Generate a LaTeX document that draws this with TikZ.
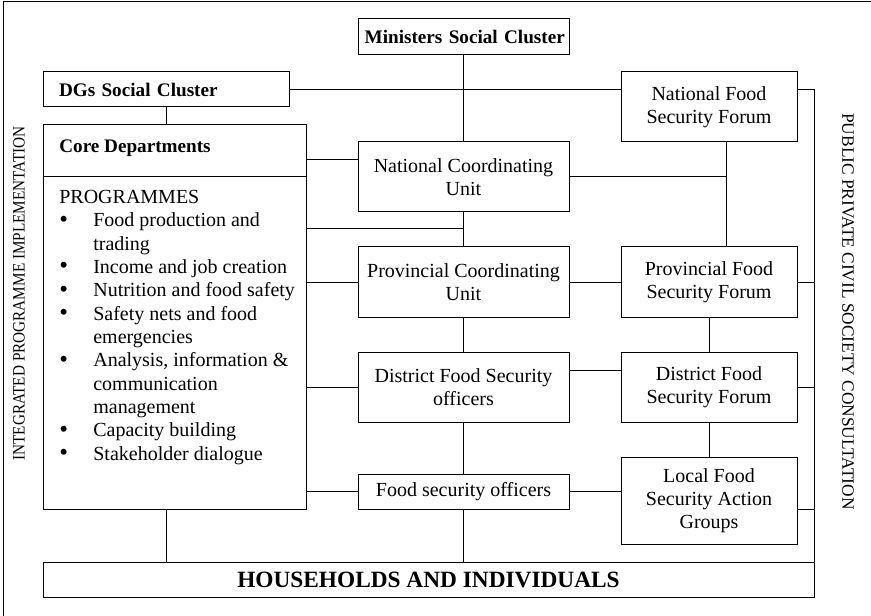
\documentclass[tikz,border=0pt]{standalone}
\usepackage{graphicx}
\usepackage{fontspec}
\setmainfont{Liberation Serif}
\usepackage{tikz}
\usetikzlibrary{positioning}
\newcommand{\progbullet}{\raisebox{-0.3pt}{\scalebox{1.25}{\textbullet}}}

\tikzset{
  box/.style={draw, line width=0.6pt, inner sep=0pt, align=center,
    minimum width=126.6pt, minimum height=42pt,
    font=\fontsize{12}{13.8}\selectfont},
  forumbox/.style={box, minimum width=105.6pt},
  boldbox/.style={box, minimum height=21pt, align=left,
    font=\fontsize{11.5}{13.8}\selectfont\bfseries},
  link/.style={line width=0.6pt},
  sidetext/.style={inner sep=0pt, font=\fontsize{10.4}{12}\selectfont}
}

\begin{document}
\begin{tikzpicture}[x=0.6pt, y=-0.6pt]
        \useasboundingbox (0,0) rectangle (871,616);
        \draw[link] (3,616) -- (3,2) -- (871,2);

        \node (min) at (463.5,37) [boldbox, minimum height=21.6pt, text width=118.6pt, inner xsep=4pt] {\mbox{Ministers Social Cluster}};
        \node (dgs) at (166,89.5) [boldbox, minimum width=147.6pt, text width=128.4pt, inner xsep=9.6pt] {DGs Social Cluster};
        \node (core) at (174.5,317) [box, minimum width=157.8pt, minimum height=230.4pt] {};
        \node (coretitle) at (59,152.5) [anchor=base west, inner sep=0pt, font=\fontsize{11.5}{13.8}\selectfont\bfseries] {Core Departments};
        \node (corelist) at (59,203.5) [anchor=base west, inner sep=0pt, font=\fontsize{12}{14}\selectfont] {%
          \begin{tabular}[t]{@{}p{20.4pt}@{}l@{}}
            \multicolumn{2}{@{}l@{}}{PROGRAMMES}\\
            \progbullet & Food production and\\
                        & trading\\
            \progbullet & Income and job creation\\
            \progbullet & Nutrition and food safety\\
            \progbullet & Safety nets and food\\
                        & emergencies\\
            \progbullet & Analysis, information \&\\
                        & communication\\
                        & management\\
            \progbullet & Capacity building\\
            \progbullet & Stakeholder dialogue
          \end{tabular}};

        \node (ncu) at (463.5,177) [box] {National Coordinating\\Unit};
        \node (pcu) at (463.5,282) [box] {Provincial Coordinating\\Unit};
        \node (dfso) at (463.5,387) [box] {District Food Security\\officers};
        \node (fso) at (463.5,491.5) [box, minimum height=21pt] {Food security officers};

        \node (nfsf) at (709,107) [forumbox] {National Food\\Security Forum};
        \node (pfsf) at (709,282) [forumbox] {Provincial Food\\Security Forum};
        \node (dfsf) at (709,387) [forumbox] {District Food\\Security Forum};
        \node (lfsag) at (709,500.5) [forumbox, minimum height=52.2pt] {Local Food\\Security Action\\Groups};

        \node (hh) at (428.5,579.5) [box, minimum width=462.6pt, minimum height=21pt, font=\fontsize{14}{16}\selectfont\bfseries] {HOUSEHOLDS AND INDIVIDUALS};

        \node (leftside) at (19,293.5) [sidetext, rotate=90] {\scalebox{0.88}[1]{INTEGRATED PROGRAMME IMPLEMENTATION}};
        \node (rightside) at (848,311.5) [sidetext, rotate=-90] {PUBLIC PRIVATE CIVIL SOCIETY CONSULTATION};

        \coordinate (ya) at (0,160);
        \coordinate (yb) at (0,229);
        \coordinate (yc) at (0,370);
        \coordinate (yd) at (0,509);
        \coordinate (yf) at (0,177);
        \coordinate (xa) at (726,0);

        \draw[link] (core.west |- yf) -- (core.east |- yf);

        \draw[link] (min) -- (ncu);
        \draw[link] (dgs) -- (dgs -| nfsf.west);
        \draw[link] (dgs) -- (core.north -| dgs);
        \draw[link] (core.east |- ya) -- (ncu.west |- ya);
        \draw[link] (core.east |- yb) -- (ncu.south |- yb);
        \draw[link] (core.east |- pcu) -- (pcu.west);
        \draw[link] (core.east |- dfso) -- (dfso.west);
        \draw[link] (core.east |- fso) -- (fso.west);
        \draw[link] (core.south -| dgs) -- (hh.north -| dgs);

        \draw[link] (ncu) -- (pcu);
        \draw[link] (pcu) -- (dfso);
        \draw[link] (dfso) -- (fso);
        \draw[link] (fso) -- (hh.north -| fso);

        \draw[link] (ncu.east) -- (ncu.east -| xa);
        \draw[link] (nfsf.south -| xa) -- (pfsf.north -| xa);
        \draw[link] (pcu) -- (pfsf);
        \draw[link] (dfso.east |- yc) -- (dfsf.west |- yc);
        \draw[link] (fso.east) -- (fso.east -| lfsag.west);
        \draw[link] (pfsf) -- (dfsf);
        \draw[link] (dfsf) -- (lfsag);

        \draw[link] (nfsf.east |- dgs) -| (hh.north east);
        \draw[link] (pfsf.east) -- (pfsf.east -| hh.east);
        \draw[link] (dfsf.east) -- (dfsf.east -| hh.east);
        \draw[link] (lfsag.east |- yd) -- (hh.east |- yd);
    \end{tikzpicture}
\end{document}
